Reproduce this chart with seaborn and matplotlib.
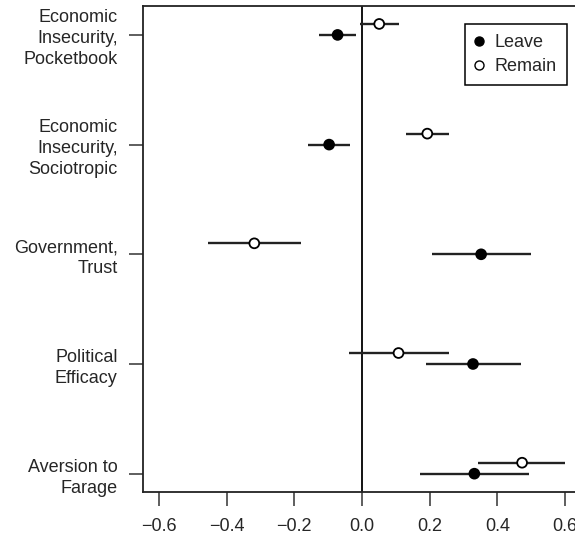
import numpy as np
import pandas as pd
import seaborn as sns
import matplotlib.pyplot as plt
from matplotlib.lines import Line2D

categories = ['Economic\nInsecurity,\nPocketbook', 'Economic\nInsecurity,\nSociotropic',
              'Government,\nTrust', 'Political\nEfficacy', 'Aversion to\nFarage']

leave_est = [-0.072, -0.097, 0.352, 0.328, 0.332]
leave_lo = [-0.126, -0.159, 0.208, 0.189, 0.172]
leave_hi = [-0.018, -0.034, 0.498, 0.471, 0.492]

remain_est = [0.051, 0.193, -0.318, 0.108, 0.473]
remain_lo = [-0.007, 0.130, -0.454, -0.039, 0.344]
remain_hi = [0.109, 0.258, -0.180, 0.258, 0.600]

groups = ['Leave', 'Remain']

df = pd.concat([
    pd.DataFrame({'cat': categories, 'group': 'Leave', 'est': leave_est,
                  'lo': leave_lo, 'hi': leave_hi, 'pos': np.arange(len(categories)) + 0.0}),
    pd.DataFrame({'cat': categories, 'group': 'Remain', 'est': remain_est,
                  'lo': remain_lo, 'hi': remain_hi, 'pos': np.arange(len(categories)) - 0.1}),
], ignore_index=True)

sns.set_style('ticks')
plt.rcParams['font.family'] = ['Liberation Sans', 'DejaVu Sans']
plt.rcParams['font.size'] = 13

fig = plt.figure(figsize=(5.75, 5.46), dpi=100)
ax = fig.add_axes([0.248, 0.0995, 0.763, 0.8896])

ax.axvline(0, color='black', lw=1.3, zorder=1)
ax.hlines(df['pos'], df['lo'], df['hi'], color='#222222', lw=1.7, zorder=2)
sns.scatterplot(data=df, x='est', y='pos', hue='group',
                palette={'Leave': 'black', 'Remain': 'white'},
                edgecolor='black', linewidth=1.3, s=50, legend=False, zorder=3, ax=ax)

ax.set_xlim(-0.648, 0.648)
span = df['pos'].max() - df['pos'].min()
ax.set_ylim(df['pos'].max() + 0.04 * span, df['pos'].min() - 0.04 * span)
ax.set_xticks([-0.6, -0.4, -0.2, 0.0, 0.2, 0.4, 0.6])
ax.set_xticklabels(['\u22120.6', '\u22120.4', '\u22120.2', '0.0', '0.2', '0.4', '0.6'])
ax.set_yticks(np.arange(len(categories)))
ax.set_yticklabels(categories, ha='right', multialignment='right', linespacing=1.3)
ax.set_xlabel('')
ax.set_ylabel('')
ax.tick_params(length=10, width=1.1, color='#333333', pad=8)
ax.tick_params(axis='x', pad=9)
for s in ax.spines.values():
    s.set_linewidth(1.3)
    s.set_color('#222222')

handles = [Line2D([], [], marker='o', ls='', markerfacecolor='black', markeredgecolor='black', markersize=6.5),
           Line2D([], [], marker='o', ls='', markerfacecolor='white', markeredgecolor='black', markersize=6.5)]
leg = ax.legend(handles, groups, loc='upper right', bbox_to_anchor=(0.9665, 0.963),
                borderaxespad=0, fancybox=False, framealpha=1, edgecolor='black',
                handletextpad=0.6, handlelength=0.5, borderpad=0.55, labelspacing=0.4)
leg.get_frame().set_linewidth(1.1)

fig.savefig('out.png', dpi=100)
